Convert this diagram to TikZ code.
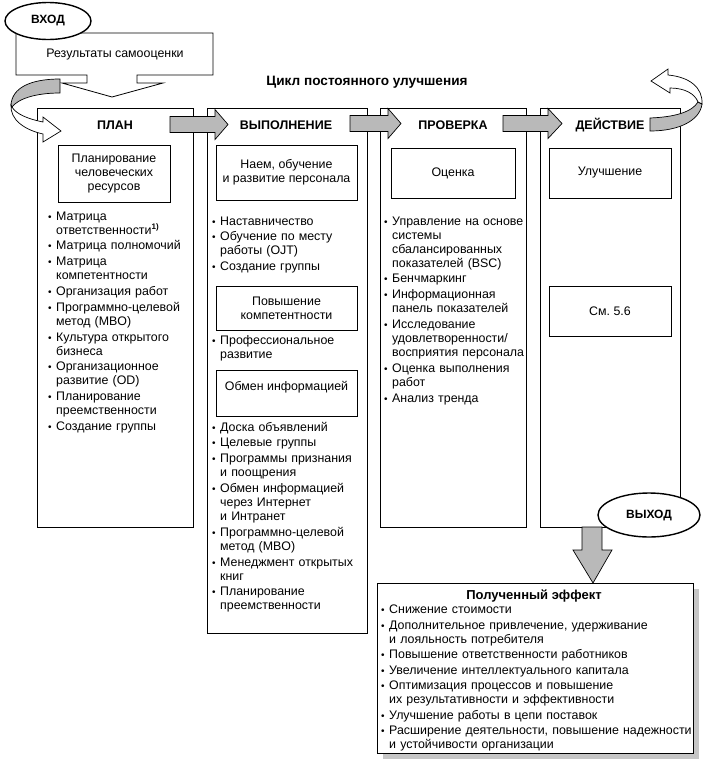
\documentclass[tikz,border=0pt]{standalone}
\usepackage{fontspec}
\setmainfont{Liberation Sans}
\usetikzlibrary{shapes.geometric}
\newcommand\bodyf{\fontsize{12.4}{14}\selectfont}
\newcommand\nl{\unskip\break}
\newcommand\bi[1]{\par\hangindent=8pt\hangafter=1\noindent\makebox[8pt][l]{\fontsize{10}{10}\selectfont•}#1\par}
\newcommand\supone{\raisebox{4.5pt}{\bfseries\fontsize{8}{8}\selectfont 1)}}
\newcommand\garr[4]{%
  \draw[garrow] (#1,#4-8) -- (#2,#4-8) -- (#2,#4-15) -- (#3,#4) -- (#2,#4+15) -- (#2,#4+8) -- (#1,#4+8) -- cycle;}
\begin{document}
\begin{tikzpicture}[x=1pt,y=-1pt,line join=miter,
  box/.style={draw, line width=0.8pt, fill=white, inner sep=0pt, outer sep=0pt, anchor=north west},
  ibox/.style={draw, line width=0.8pt, inner sep=0pt, outer sep=0pt, anchor=north west, align=center, font=\bodyf},
  hdr/.style={font=\bfseries\fontsize{12.5}{14}\selectfont},
  blist/.style={anchor=north west, inner sep=0pt, align=left, font=\bodyf\setlength{\parskip}{1.8pt}},
  garrow/.style={draw, line width=0.7pt, fill=gray!55},
  wband/.style={draw, line width=0.7pt, fill=white},
  oval/.style={ellipse, draw, line width=1.4pt, fill=white, inner sep=0pt, font=\bfseries\fontsize{12}{14}\selectfont}
]
\useasboundingbox (0,0) rectangle (705,766);

% input box with arrow
\draw[line width=0.8pt, fill=white] (16,33) -- (213,33) -- (213,75) -- (137,75) -- (137,83) -- (163,83) -- (112,97) -- (62,83) -- (87,83) -- (87,75) -- (16,75) -- cycle;
\node[font=\bodyf] (res) at (115,55) {Результаты самооценки};
\node[oval, minimum width=86pt, minimum height=37pt] (vhod) at (48,21) {ВХОД};

\node[font=\bfseries\fontsize{13.6}{15}\selectfont] (title) at (367,82) {Цикл постоянного улучшения};

% columns
\node[box, minimum width=156pt, minimum height=419pt] (plan) at (37,108) {};
\node[box, minimum width=160pt, minimum height=525pt] (vyp) at (207,108) {};
\node[box, minimum width=146pt, minimum height=419pt] (prov) at (380,108) {};
\node[box, minimum width=140pt, minimum height=419pt] (deis) at (540,108) {};

\node[hdr] (planH) at (115,125) {ПЛАН};
\node[hdr] (vypH) at (286,125) {ВЫПОЛНЕНИЕ};
\node[hdr] (provH) at (453,125) {ПРОВЕРКА};
\node[hdr] (deisH) at (610,125) {ДЕЙСТВИЕ};

% gray arrows between columns
\garr{170}{215}{228}{124.5}
\garr{350}{388}{401}{123.5}
\garr{503}{548}{562}{123.5}

% left curved arrow
\draw[garrow] (60,79) .. controls (30,79) and (12,88) .. (11,105) -- (12,107) .. controls (18,99) and (35,93) .. (60,93) -- cycle;
\draw[wband] (11,105) .. controls (10,120) and (25,130) .. (43,134) -- (43,142) -- (61,131) -- (43,117) -- (43,122) .. controls (28,119) and (16,114) .. (12,107) -- cycle;

% right curved arrow
\draw[garrow] (650,118) .. controls (675,117) and (692,112) .. (698,102) -- (702,104) .. controls (700,120) and (680,131) .. (650,131) -- cycle;
\draw[wband] (702,104) .. controls (703,88) and (690,77) .. (668,75) -- (668,69) -- (651,81) -- (670,93) -- (670,88) .. controls (685,88) and (695,94) .. (698,102) -- cycle;

% inner boxes
\node[ibox, minimum width=112pt, minimum height=57pt] (hr) at (58,145) {Планирование\\человеческих\\ресурсов};
\node[ibox, minimum width=141pt, minimum height=55pt] (naem) at (216,145) {Наем, обучение\\и развитие персонала};
\node[ibox, minimum width=141pt, minimum height=44pt] (pov) at (216,286) {Повышение\\компетентности};
\node[ibox, minimum width=141pt, minimum height=46pt] (obm) at (216,370) {};
\node[font=\bodyf] (obmT) at (286.5,387) {Обмен информацией};
\node[ibox, minimum width=124pt, minimum height=50pt] (oc) at (391,148) {Оценка};
\node[ibox, minimum width=122pt, minimum height=50pt] (ul) at (549,148) {Улучшение};
\node[ibox, minimum width=122pt, minimum height=50pt] (sm) at (549,286) {См.\ 5.6};

% bullet lists
\node[blist, text width=150pt] (planL) at (48,204) {%
\bi{Матрица\nl ответственности\supone}
\bi{Матрица полномочий}
\bi{Матрица\nl компетентности}
\bi{Организация работ}
\bi{Программно-целевой\nl метод (MBO)}
\bi{Культура открытого\nl бизнеса}
\bi{Организационное\nl развитие (OD)}
\bi{Планирование\nl преемственности}
\bi{Создание группы}};

\node[blist, text width=156pt] (vypL1) at (212,209) {%
\bi{Наставничество}
\bi{Обучение по месту\nl работы (OJT)}
\bi{Создание группы}};

\node[blist, text width=156pt] (vypL2) at (212,328) {%
\bi{Профессиональное\nl развитие}};

\node[blist, text width=156pt] (vypL3) at (212,415) {%
\bi{Доска объявлений}
\bi{Целевые группы}
\bi{Программы признания\nl и поощрения}
\bi{Обмен информацией\nl через Интернет\nl и Интранет}
\bi{Программно-целевой\nl метод (MBO)}
\bi{Менеджмент открытых\nl книг}
\bi{Планирование\nl преемственности}};

\node[blist, text width=145pt] (provL) at (384,209) {%
\bi{Управление на основе\nl системы\nl сбалансированных\nl показателей (BSC)}
\bi{Бенчмаркинг}
\bi{Информационная\nl панель показателей}
\bi{Исследование\nl удовлетворенности/\nl восприятия персонала}
\bi{Оценка выполнения\nl работ}
\bi{Анализ тренда}};

% output
\fill[gray!45] (383,589) rectangle (699,759);
\node[box, line width=1pt, minimum width=316pt, minimum height=170pt] (eff) at (377,583) {};
\draw[garrow] (582,527) -- (602,527) -- (602,550) -- (612,550) -- (593,583) -- (573,550) -- (582,550) -- cycle;
\node[oval, minimum width=102pt, minimum height=44pt] (vyhod) at (649,515) {ВЫХОД};

\node[font=\bfseries\fontsize{13}{15}\selectfont] (effT) at (534,596) {Полученный эффект};
\node[blist, text width=312pt, font=\bodyf\setlength{\parskip}{1.5pt}] (effL) at (381,598) {%
\bi{Снижение стоимости}
\bi{Дополнительное привлечение, удерживание\nl и лояльность потребителя}
\bi{Повышение ответственности работников}
\bi{Увеличение интеллектуального капитала}
\bi{Оптимизация процессов и повышение\nl их результативности и эффективности}
\bi{Улучшение работы в цепи поставок}
\bi{Расширение деятельности, повышение надежности\nl и устойчивости организации}};
\end{tikzpicture}
\end{document}
